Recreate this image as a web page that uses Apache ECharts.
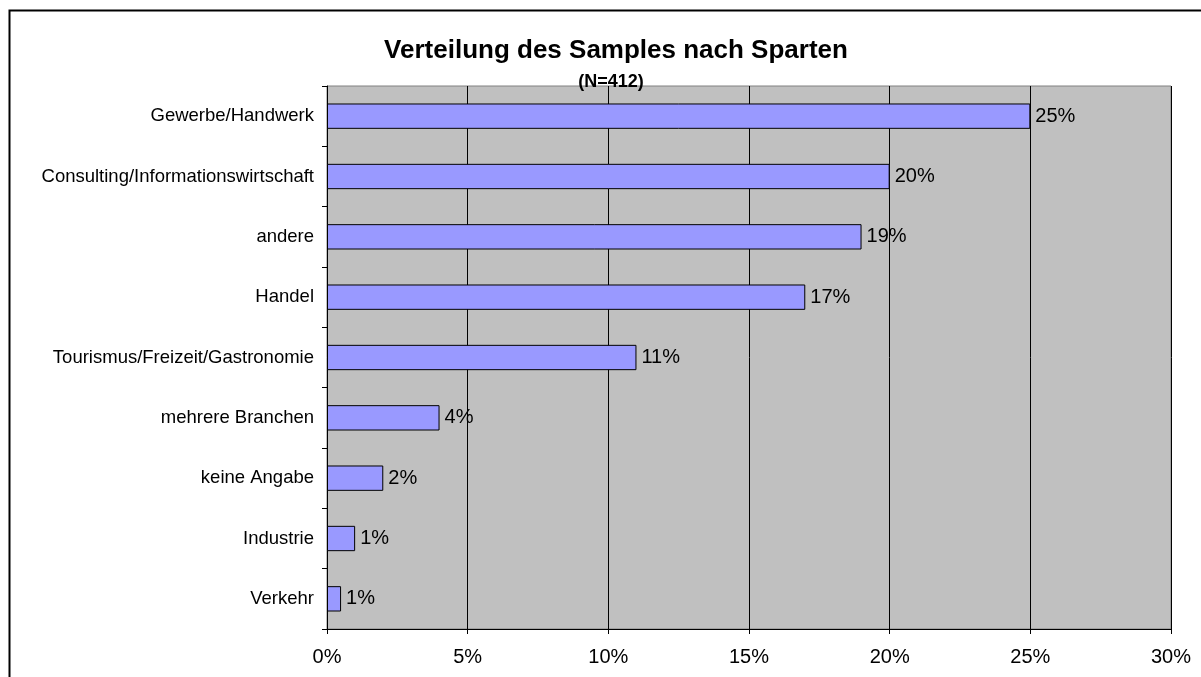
<!DOCTYPE html>
<html>
<head>
<meta charset="utf-8">
<script src="https://cdn.jsdelivr.net/npm/echarts@6/dist/echarts.min.js"></script>
<style>
  html, body { margin: 0; padding: 0; background: #fff; }
  #chart { width: 1201px; height: 677px; }
</style>
</head>
<body>
<div id="chart"></div>
<script>
// Sparten und Anteile (in %)
const categories = [
  'Gewerbe/Handwerk',
  'Consulting/Informationswirtschaft',
  'andere',
  'Handel',
  'Tourismus/Freizeit/Gastronomie',
  'mehrere Branchen',
  'keine Angabe',
  'Industrie',
  'Verkehr'
]
const shares = [25, 20, 19, 17, 11, 4, 2, 1, 0.5]
const xTicks = [0, 5, 10, 15, 20, 25, 30]

const font = 'Liberation Sans, Arial, sans-serif'
const chart = echarts.init(document.getElementById('chart'))

const option = {
  animation: false,
  backgroundColor: '#fff',
  title: [
    {
      text: 'Verteilung des Samples nach Sparten',
      left: 611,
      top: 33,
      textAlign: 'center',
      textStyle: { fontFamily: font, fontSize: 26, fontWeight: 'bold', color: '#000' }
    },
    {
      text: '(N=412)',
      left: 606,
      top: 68,
      textAlign: 'center',
      textStyle: { fontFamily: font, fontSize: 18, fontWeight: 'bold', color: '#000' }
    }
  ],
  graphic: [
    {
      type: 'rect',
      shape: { x: 9.5, y: 10.5, width: 1300, height: 800 },
      style: { fill: 'none', stroke: '#000', lineWidth: 2 },
      silent: true
    }
  ],
  grid: {
    left: 327,
    right: 30,
    top: 86,
    bottom: 48,
    show: true,
    backgroundColor: '#C0C0C0',
    borderColor: '#808080',
    borderWidth: 1
  },
  xAxis: {
    type: 'value',
    min: xTicks[0],
    max: xTicks[xTicks.length - 1],
    interval: 5,
    axisLine: { show: true, lineStyle: { color: '#000', width: 1 } },
    axisTick: { show: true, length: 5, lineStyle: { color: '#000' } },
    axisLabel: {
      formatter: '{value}%',
      margin: 18,
      fontFamily: font,
      fontSize: 20,
      color: '#000'
    },
    splitLine: { show: true, lineStyle: { color: '#000', width: 1 } }
  },
  yAxis: {
    type: 'category',
    data: categories,
    inverse: true,
    axisLine: { show: true, lineStyle: { color: '#000', width: 1 } },
    axisTick: { show: true, length: 5, alignWithLabel: false, lineStyle: { color: '#000' } },
    axisLabel: {
      margin: 13,
      fontFamily: font,
      fontSize: 18.5,
      color: '#000'
    }
  },
  series: [
    {
      type: 'bar',
      data: shares,
      barWidth: '42%',
      itemStyle: { color: '#9999FF', borderColor: '#000', borderWidth: 1 },
      label: {
        show: true,
        position: 'right',
        distance: 5,
        formatter: p => Math.round(p.value) + '%',
        fontFamily: font,
        fontSize: 20,
        color: '#000'
      }
    }
  ]
}

chart.setOption(option)
</script>
</body>
</html>
